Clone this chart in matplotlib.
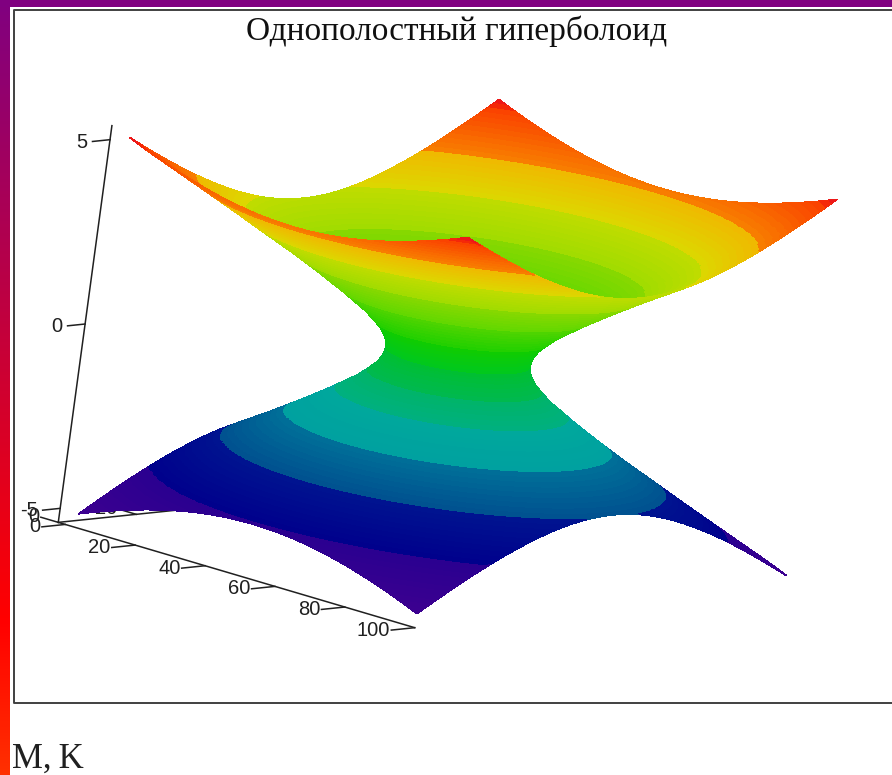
import numpy as np
import matplotlib
matplotlib.use('Agg')
import matplotlib.pyplot as plt
from matplotlib.colors import LinearSegmentedColormap, to_rgb
from matplotlib.patches import Rectangle
from mpl_toolkits.mplot3d.art3d import Poly3DCollection

# profile of the hyperboloid: height against radius along x
profile_height = [0, 0.25, 0.5, 0.75, 1.0, 1.5, 2.0, 2.5, 3.0, 3.5, 4.0, 4.5, 5.0, 5.1]
profile_radius = [15.9, 16.3, 17.6, 19.7, 22.1, 28.2, 34.8, 41.8, 49.2, 56.5, 64.0, 71.5, 79.1, 80.6]
ratio_y = 0.735      # radius along y / radius along x
half_x, half_y = 48.35, 47.4
centre_x, centre_y = 49, 50

# colour bands: each one fades from its low colour to its high colour
band_edges = [-5.1, -4.0, -3.0, -2.1, -1.3, -0.7, 0, 0.7, 1.5, 2.3, 3.1, 3.9, 4.9, 5.1]
band_low = ['#3c0090', '#00008c', '#005090', '#00a0a0', '#00b080', '#00b850',
            '#00c81e', '#20d000', '#60d800', '#a0dc00', '#dcd800', '#f88000', '#fa3000']
band_high = ['#2a0090', '#001490', '#007098', '#00a89c', '#00b468', '#00c030',
             '#10cc00', '#50d400', '#88d800', '#c0dc00', '#f0b800', '#fa4000', '#e81020']

x_ticks = [0, 20, 40, 60, 80, 100]
y_ticks = [0, 20, 40, 60, 80, 100]
z_ticks = [-5, 0, 5]
x_limits = (-2, 100)
y_limits = (0, 100)
z_limits = (-5.38, 5.38)

title = 'Однополостный гиперболоид'
caption = 'M,\u2009K'

# build the sheet ring by ring
rings, ring_colors = [], []
for k in range(len(band_low)):
    z0, z1 = band_edges[k], band_edges[k + 1]
    n = max(2, int(round((z1 - z0) / 0.1)))
    low, high = np.array(to_rgb(band_low[k])), np.array(to_rgb(band_high[k]))
    for i in range(n):
        rings.append((z0 + (z1 - z0) * i / n, z0 + (z1 - z0) * (i + 1) / n))
        ring_colors.append(low + (high - low) * (i + 0.5) / n)

corner = np.arctan2(half_y / ratio_y, half_x)
theta = np.sort(np.concatenate([np.linspace(0, 2 * np.pi, 481),
                                [corner, np.pi - corner, np.pi + corner, 2 * np.pi - corner]]))
edge_r = np.minimum(half_x / np.maximum(np.abs(np.cos(theta)), 1e-9),
                    half_y / ratio_y / np.maximum(np.abs(np.sin(theta)), 1e-9))
edge_z = np.interp(edge_r, profile_radius, profile_height)


def ring_points(z):
    r = np.interp(abs(z), profile_height, profile_radius)
    rr = np.minimum(r, edge_r)
    zz = np.where(r < edge_r, z, np.sign(z) * edge_z)
    return centre_x + rr * np.cos(theta), centre_y + ratio_y * rr * np.sin(theta), zz, r < edge_r


polys, colors = [], []
for (z0, z1), c in zip(rings, ring_colors):
    x0, y0, h0, in0 = ring_points(z0)
    x1, y1, h1, in1 = ring_points(z1)
    for j in range(len(theta) - 1):
        if not (in0[j] or in0[j + 1] or in1[j] or in1[j + 1]):
            continue
        polys.append([(x0[j], y0[j], h0[j]), (x0[j + 1], y0[j + 1], h0[j + 1]),
                      (x1[j + 1], y1[j + 1], h1[j + 1]), (x1[j], y1[j], h1[j])])
        colors.append(c)

W, H = 892, 775
fig = plt.figure(figsize=(W / 100, H / 100), dpi=100, facecolor='white')

# slide decoration and the plot frame, in pixel coordinates
bg = fig.add_axes([0, 0, 1, 1], zorder=0)
stripe = LinearSegmentedColormap.from_list('stripe', [(0, '#800080'), (0.8, '#ff0000'), (1, '#ff3000')])
bg.imshow(np.linspace(0, 1, 256).reshape(-1, 1), cmap=stripe, extent=(0, 10, H, 0), aspect='auto', zorder=1)
bg.set_xlim(0, W)
bg.set_ylim(H, 0)
bg.set_xticks([])
bg.set_yticks([])
bg.axis('off')
bg.add_patch(Rectangle((0, 0), W, 7, color='#800080', lw=0, zorder=2))
bg.plot([W, 13.5, 13.5, W], [10, 10, 702.5, 702.5], color='#404040', lw=1.4, zorder=3)

ax = fig.add_axes([23.6 / W, -16 / H, 846 / W, 846 / H], projection='3d', proj_type='ortho',
                  computed_zorder=False, zorder=1)
ax.patch.set_visible(False)
ax.set_axis_off()
ax.view_init(elev=11.13, azim=-51.4, roll=-7.7)
ax.set_box_aspect((470, 610, 408))

line = dict(color='#202020', lw=1.1, zorder=1)
ax.plot(x_limits, [0, 0], [z_limits[0]] * 2, **line)
ax.plot([x_limits[0]] * 2, y_limits, [z_limits[0]] * 2, **line)
ax.plot([x_limits[0]] * 2, [0, 0], z_limits, **line)

label = dict(fontsize=14.5, family='Liberation Sans', color='#202020', va='center', ha='right', zorder=1)
for t in x_ticks:
    ax.plot([t, t], [0, -6], [z_limits[0]] * 2, **line)
    ax.text(t, -6.3, z_limits[0], str(t), **label)
for t in y_ticks:
    ax.plot([x_limits[0], x_limits[0] - 5], [t, t], [z_limits[0]] * 2, **line)
    ax.text(x_limits[0] - 5.5, t, z_limits[0], str(t), **label)
for t in z_ticks:
    ax.plot([x_limits[0]] * 2, [0, -4.5], [t, t], **line)
    ax.text(x_limits[0], -5.8, t, str(t), **label)

surf = Poly3DCollection(polys, facecolors=colors, edgecolors=colors, linewidths=0.5,
                        antialiased=False, zorder=5)
ax.add_collection3d(surf)

ax.set_xlim(*x_limits)
ax.set_ylim(*y_limits)
ax.set_zlim(*z_limits)
ax.set_xticks([])
ax.set_yticks([])
ax.set_zticks([])

fig.text(457 / W, 1 - 31 / H, title, family='Liberation Serif', fontsize=24, color='#101010',
         ha='center', va='center')
fig.text(12 / W, 1 - 768 / H, caption, family='Liberation Serif', fontsize=25, color='#202020',
         ha='left', va='baseline')

fig.savefig('out.png', dpi=100)
